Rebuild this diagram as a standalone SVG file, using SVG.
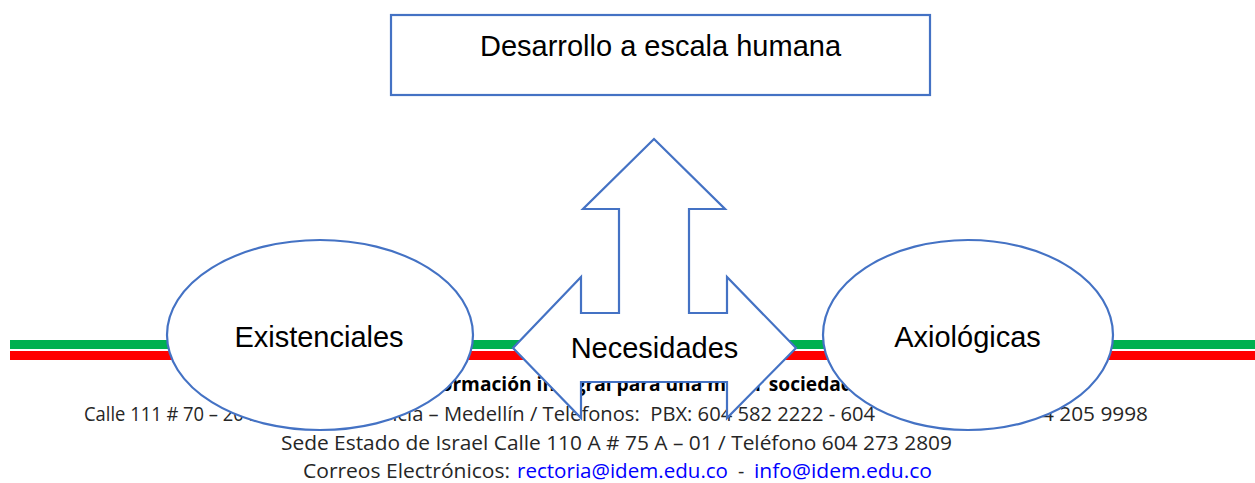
<svg xmlns="http://www.w3.org/2000/svg" width="1255" height="483" viewBox="0 0 1255 483">
<style>
.shape{fill:#FFFFFF;stroke:#4472C4;stroke-width:2.2}
.lbl{font-family:"Liberation Sans",Arial,sans-serif;font-size:29px;fill:#000000;text-anchor:middle}
.foot{font-family:"Open Sans","Noto Sans",sans-serif;font-size:19.5px;font-weight:400;fill:#262626}
.bold{font-family:"Open Sans","Noto Sans",sans-serif;font-size:19.5px;font-weight:700;fill:#000000}
.link{fill:#0000FF;font-weight:500}
</style>
<rect width="1255" height="483" fill="#FFFFFF"/>
<g id="footer">
<rect x="10" y="340" width="1245" height="9" fill="#00B050"/>
<rect x="10" y="351" width="1245" height="9" fill="#FF0000"/>
<text class="bold" x="430" y="391" textLength="423" lengthAdjust="spacingAndGlyphs">Formación integral para una mejor sociedad</text>
<text class="foot" y="421"><tspan x="84" textLength="300" lengthAdjust="spacingAndGlyphs">Calle 111 # 70 – 20 Barrio Florencia</tspan><tspan x="385" textLength="490" lengthAdjust="spacingAndGlyphs">ncia – Medellín / Teléfonos:&#160; PBX: 604 582 2222 - 604</tspan><tspan x="1042" textLength="106" lengthAdjust="spacingAndGlyphs">4 205 9998</tspan></text>
<text class="foot" x="281" y="450" textLength="671" lengthAdjust="spacingAndGlyphs">Sede Estado de Israel Calle 110 A # 75 A – 01 / Teléfono 604 273 2809</text>
<text class="foot" y="478"><tspan x="303" textLength="207" lengthAdjust="spacingAndGlyphs">Correos Electrónicos:</tspan><tspan class="link" x="517" textLength="211" lengthAdjust="spacingAndGlyphs">rectoria@idem.edu.co</tspan><tspan x="738">-</tspan><tspan class="link" x="754" textLength="178" lengthAdjust="spacingAndGlyphs">info@idem.edu.co</tspan></text>
</g>
<g id="connectors"></g>
<g id="node-desarrollo">
<rect class="shape" x="391" y="15" width="539" height="80"/>
<text class="lbl" x="660.5" y="56">Desarrollo a escala humana</text>
</g>
<g id="node-existenciales">
<ellipse class="shape" cx="320" cy="335" rx="153" ry="95"/>
<text class="lbl" x="319" y="346.5">Existenciales</text>
</g>
<g id="node-axiologicas">
<ellipse class="shape" cx="968" cy="335" rx="145" ry="95"/>
<text class="lbl" x="967.5" y="346.5">Axiológicas</text>
</g>
<g id="node-necesidades">
<path class="shape" d="M654,139 L725,209 L689,209 L689,313 L727,313 L727,277 L796,348 L727,418 L727,382 L581,382 L581,418 L513,348 L581,277 L581,313 L619,313 L619,209 L583,209 Z"/>
<text class="lbl" x="654.5" y="358.3">Necesidades</text>
</g>
</svg>
